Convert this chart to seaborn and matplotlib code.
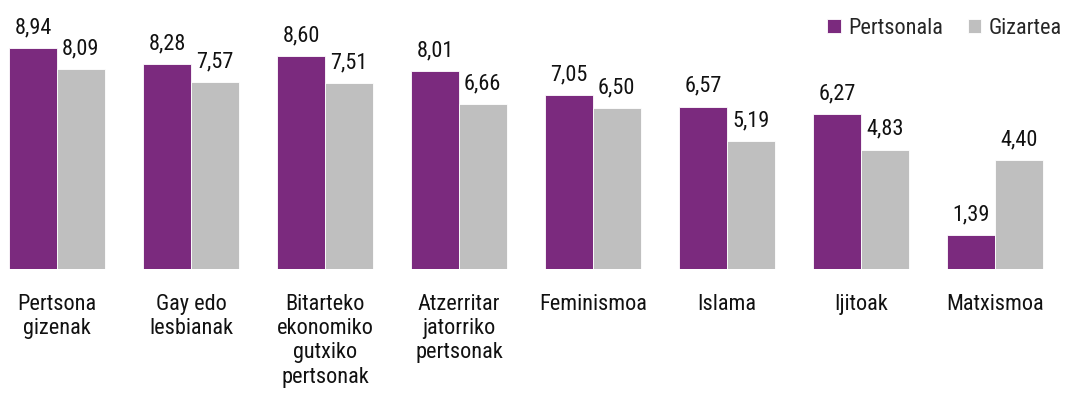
import numpy as np
import pandas as pd
import matplotlib.pyplot as plt
import seaborn as sns
from matplotlib import font_manager

categories = ['Pertsona\ngizenak', 'Gay edo\nlesbianak', 'Bitarteko\nekonomiko\ngutxiko\npertsonak',
              'Atzerritar\njatorriko\npertsonak', 'Feminismoa', 'Islama', 'Ijitoak', 'Matxismoa']
pertsonala = [8.94, 8.28, 8.60, 8.01, 7.05, 6.57, 6.27, 1.39]
gizartea = [8.09, 7.57, 7.51, 6.66, 6.50, 5.19, 4.83, 4.40]
series = ['Pertsonala', 'Gizartea']
colors = ['#7B2A7E', '#BFBFBF']

df = pd.DataFrame({
    'Kategoria': categories * 2,
    'Balioa': pertsonala + gizartea,
    'Serie': [series[0]] * len(categories) + [series[1]] * len(categories),
})

sns.set_style('white')

names = {f.name for f in font_manager.fontManager.ttflist}
family = 'Roboto'
for cand in ['Roboto Condensed', 'Liberation Sans Narrow', 'Open Sans Condensed', 'Noto Sans Condensed']:
    if cand in names:
        family = cand
        break
plt.rcParams['font.family'] = [family, 'DejaVu Sans']
fs = 16

fig = plt.figure(figsize=(10.72, 4.04), dpi=100)
ax = fig.add_axes([0, 0.334, 1, 0.666])
sns.barplot(data=df, x='Kategoria', y='Balioa', hue='Serie', palette=colors,
            width=0.71, ax=ax, saturation=1, edgecolor='white', linewidth=0.6)

for cont in ax.containers:
    labels = [f'{v:.2f}'.replace('.', ',') for v in cont.datavalues]
    ax.bar_label(cont, labels=labels, padding=7, fontsize=fs, color='#111111')

ax.set_xlim(-0.425, 7.575)
ax.set_ylim(0, 10.88)
ax.set_xlabel('')
ax.set_ylabel('')
ax.set_yticks([])
ax.tick_params(axis='x', length=0, pad=18, labelsize=fs, labelcolor='#111111')
for lab in ax.get_xticklabels():
    lab.set_linespacing(1.2)
sns.despine(ax=ax, left=True, bottom=True)

leg = ax.legend(loc='upper right', bbox_to_anchor=(1.0, 0.97), frameon=False, fontsize=fs,
                handlelength=0.6, handleheight=0.6, handletextpad=0.35, columnspacing=1.1,
                ncol=2, borderaxespad=0.05)

fig.savefig('out.png', dpi=100)
